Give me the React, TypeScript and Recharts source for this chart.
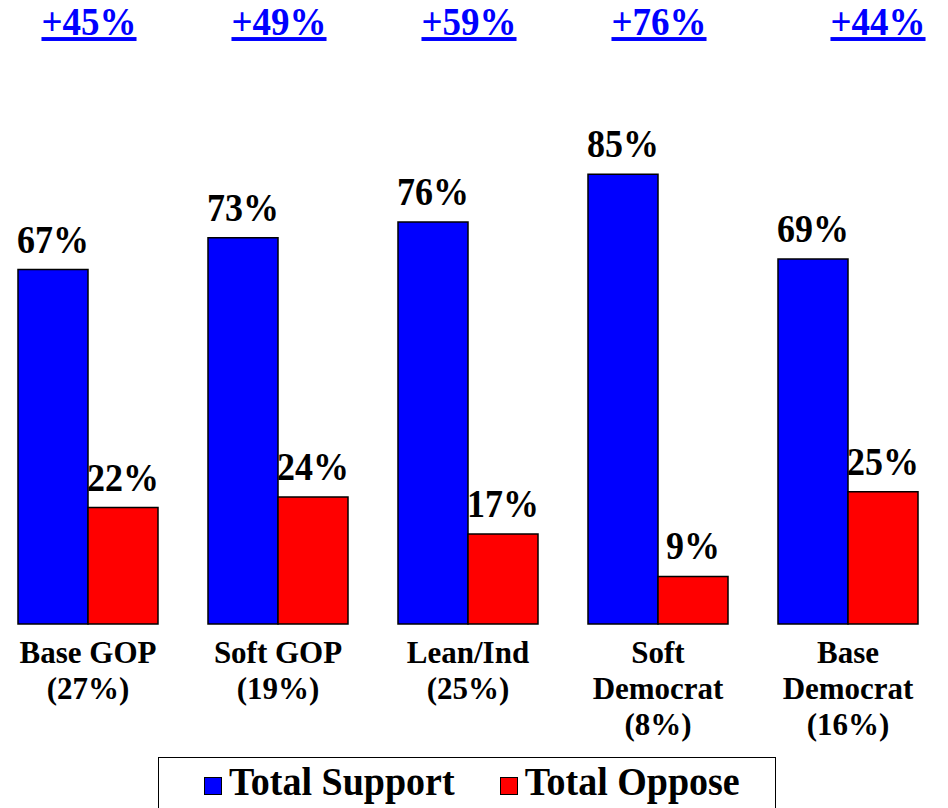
import React from 'react';
import { BarChart, Bar, XAxis, YAxis, LabelList, Legend } from 'recharts';

const categoryLines: string[][] = [
  ['Base GOP', '(27%)'],
  ['Soft GOP', '(19%)'],
  ['Lean/Ind', '(25%)'],
  ['Soft', 'Democrat', '(8%)'],
  ['Base', 'Democrat', '(16%)'],
];
const totalSupport = [67, 73, 76, 85, 69];
const totalOppose = [22, 24, 17, 9, 25];
const netMargins = ['+45%', '+49%', '+59%', '+76%', '+44%'];
const seriesOrder = ['support', 'oppose'];

const data = categoryLines.map((lines, i) => ({
  name: lines.join(' '),
  support: totalSupport[i],
  oppose: totalOppose[i],
  net: netMargins[i],
}));

const FONT = "'Liberation Serif', 'Times New Roman', serif";

const CategoryTick = (props: any) => {
  const { x, y, index } = props;
  const lines = categoryLines[index] || [];
  return (
    <g>
      {lines.map((ln, i) => (
        <g key={i} transform={`translate(${x},${y + 39 + i * 36}) scale(1,1.05)`}>
          <text
            x={0}
            y={0}
            textAnchor="middle"
            fontFamily={FONT}
            fontWeight="bold"
            fontSize={31}
            fill="#000"
          >
            {ln}
          </text>
        </g>
      ))}
    </g>
  );
};

const ValueLabel = (props: any) => {
  const { x, y, width, value } = props;
  return (
    <g transform={`translate(${x + width / 2},${y - 17}) scale(1,1.1)`}>
      <text x={0} y={0} textAnchor="middle" fontFamily={FONT} fontWeight="bold" fontSize={36} fill="#000">
        {`${value}%`}
      </text>
    </g>
  );
};

const NetLabel = (props: any) => {
  const { x, width, index } = props;
  const nudge = index === 4 ? 30 : 1;
  return (
    <g transform={`translate(${x + width + nudge},35) scale(1,1.06)`}>
      <text
        x={0}
        y={0}
        textAnchor="middle"
        fontFamily={FONT}
        fontWeight="bold"
        fontSize={37}
        fill="#0000FF"
        textDecoration="underline"
        style={{ textDecoration: 'underline' }}
      >
        {netMargins[index]}
      </text>
    </g>
  );
};

const LegendBox = (props: any) => {
  const payload = [...(props.payload || [])].sort(
    (a: any, b: any) => seriesOrder.indexOf(a.dataKey) - seriesOrder.indexOf(b.dataKey)
  );
  return (
    <div
      style={{
        boxSizing: 'border-box',
        width: 618,
        height: 51,
        borderTop: '1.5px solid #000',
        borderLeft: '1.5px solid #000',
        borderRight: '1.5px solid #000',
        display: 'flex',
        alignItems: 'flex-start',
        paddingLeft: 45,
        paddingTop: 5,
        background: '#fff',
      }}
    >
      {payload.map((p: any, i: number) => (
        <div key={i} style={{ display: 'flex', alignItems: 'flex-start', marginRight: i === 0 ? 45 : 0 }}>
          <div
            style={{
              boxSizing: 'border-box',
              width: 18,
              height: 18,
              marginTop: 14,
              background: p.color,
              border: '1px solid #000',
              marginRight: 7,
            }}
          />
          <span
            style={{
              fontFamily: FONT,
              fontWeight: 'bold',
              fontSize: 38,
              lineHeight: '38px',
              color: '#000',
              whiteSpace: 'nowrap',
              display: 'inline-block',
              transform: 'scaleY(1.05)',
              transformOrigin: 'center bottom',
            }}
          >
            {p.value}
          </span>
        </div>
      ))}
    </div>
  );
};

export default function App() {
  return (
    <div style={{ position: 'absolute', left: 0, top: 0, width: 948, height: 808, background: '#fff' }}>
      <BarChart
        width={948}
        height={808}
        data={data}
        margin={{ top: 95, right: 5, left: -7, bottom: 24 }}
        barCategoryGap={25}
        barGap={0}
      >
        <XAxis
          dataKey="name"
          axisLine={false}
          tickLine={false}
          tickSize={0}
          tickMargin={0}
          height={160}
          interval={0}
          tick={<CategoryTick />}
        />
        <YAxis hide domain={[0, 100]} />
        <Legend
          verticalAlign="middle"
          align="center"
          layout="horizontal"
          wrapperStyle={{ top: 757, left: 158, width: 618, height: 51 }}
          content={<LegendBox />}
        />
        <Bar dataKey="support" name="Total Support" fill="#0000FF" stroke="#000" strokeWidth={1.5} isAnimationActive={false}>
          <LabelList dataKey="support" content={<ValueLabel />} />
          <LabelList dataKey="net" content={<NetLabel />} />
        </Bar>
        <Bar dataKey="oppose" name="Total Oppose" fill="#FF0000" stroke="#000" strokeWidth={1.5} isAnimationActive={false}>
          <LabelList dataKey="oppose" content={<ValueLabel />} />
        </Bar>
      </BarChart>
    </div>
  );
}
